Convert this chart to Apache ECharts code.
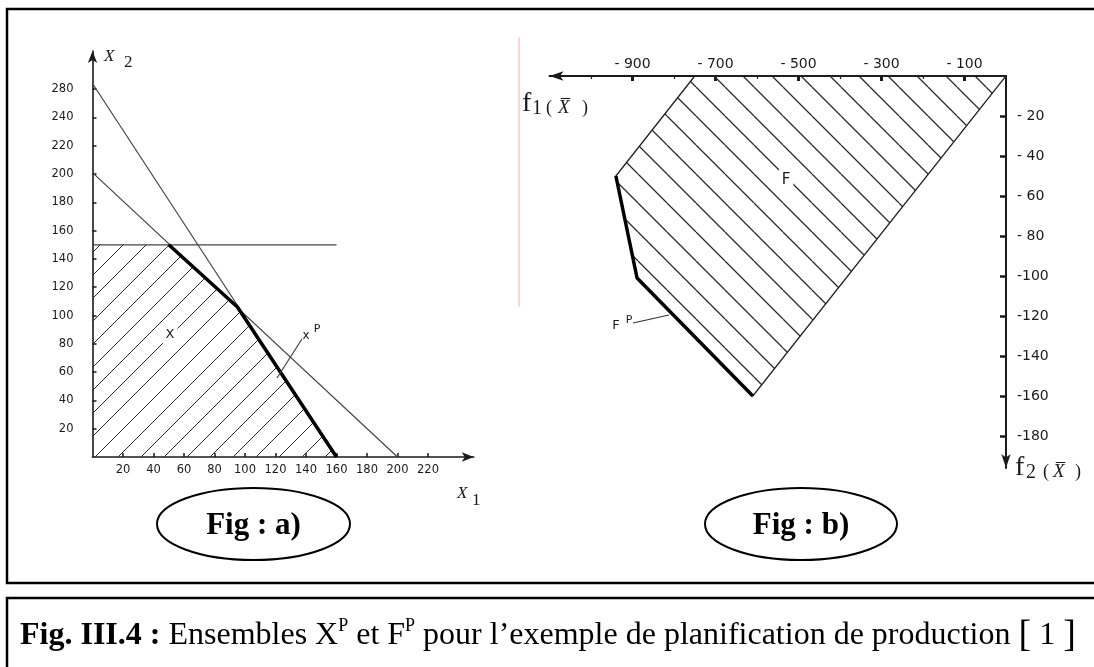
<!DOCTYPE html>
<html>
<head>
<meta charset="utf-8">
<script src="https://cdn.jsdelivr.net/npm/echarts@6/dist/echarts.min.js"></script>
<style>
  html, body { margin: 0; padding: 0; background: #fff; }
  #chart { width: 1094px; height: 667px; }
</style>
</head>
<body>
<div id="chart"></div>
<script>
// ---- Fig a) : decision space (x1, x2)
const x1TicksA = [20, 40, 60, 80, 100, 120, 140, 160, 180, 200, 220];
const x2TicksA = [20, 40, 60, 80, 100, 120, 140, 160, 180, 200, 220, 240, 260];
const x2LabelsA = ['20', '40', '60', '80', '100', '120', '140', '160', '180', '200', '220', '240', '280'];
const lineSteepA = [[0, 264], [160, 0]];
const line200A = [[0, 201], [200, 0]];
const line150A = [[0, 150], [160, 150]];
const paretoA = [[50, 150], [95, 106], [160, 0]];
const setA = [[0, 0], [0, 150], [50, 150], [95, 106], [160, 0]];

// ---- Fig b) : objective space (f1, f2)
const f1Ticks = [-900, -700, -500, -300, -100];
const f1Minor = [-1000, -800, -600, -400, -200];
const f2Ticks = [-20, -40, -60, -80, -100, -120, -140, -160, -180];
const setF = [[0, 0], [-750, 0], [-940, -50], [-889, -101], [-610, -160]];
const paretoF = [[-940, -50], [-889, -101], [-610, -160]];

const INK = '#1a1a1a';
const serif = 'Liberation Serif';
const sans = 'DejaVu Sans';

function hatch(w, dir, lw) {
  const c = document.createElement('canvas');
  c.width = w; c.height = w;
  const ctx = c.getContext('2d');
  ctx.strokeStyle = '#2a2a2a';
  ctx.lineWidth = lw;
  ctx.beginPath();
  [-w, 0, w].forEach(o => {
    if (dir === '/') { ctx.moveTo(o, w); ctx.lineTo(o + w, 0); }
    else { ctx.moveTo(o, 0); ctx.lineTo(o + w, w); }
  });
  ctx.stroke();
  return c;
}

function polySeries(xi, yi, pts, img, stroke) {
  return {
    type: 'custom', xAxisIndex: xi, yAxisIndex: yi, data: [pts[0]], silent: true, z: 1,
    renderItem: (params, api) => ({
      type: 'polygon',
      shape: { points: pts.map(p => api.coord(p)) },
      style: { fill: { image: img, repeat: 'repeat' }, stroke: stroke || null, lineWidth: 1.3 }
    })
  };
}

function lineSeries(data, xi, yi, width, color, z) {
  return {
    type: 'line', xAxisIndex: xi, yAxisIndex: yi, data: data, symbol: 'none', silent: true, z: z,
    lineStyle: { width: width, color: color }
  };
}

function txt(x, y, text, size, extra) {
  return {
    type: 'text', x: x, y: y, z: 10,
    style: Object.assign({ text: text, fontSize: size, fontFamily: sans, fill: INK, verticalAlign: 'middle' }, extra || {})
  };
}

const myChart = echarts.init(document.getElementById('chart'));

myChart.setOption({
  animation: false,
  grid: [
    { left: 92.5, top: 51, width: 381.25, height: 406, outerBoundsMode: 'none' },
    { left: 549.5, top: 76, width: 456.5, height: 392, outerBoundsMode: 'none' }
  ],
  xAxis: [
    {
      type: 'value', gridIndex: 0, min: 0, max: 250,
      axisLine: { onZero: false, symbol: ['none', 'arrow'], symbolSize: [7, 12], lineStyle: { color: INK, width: 1.6 } },
      axisTick: { inside: true, length: 4, customValues: x1TicksA, lineStyle: { color: INK, width: 1.5 } },
      axisLabel: { customValues: x1TicksA, color: INK, fontSize: 11.5, fontFamily: sans, margin: 7 },
      splitLine: { show: false }
    },
    {
      type: 'value', gridIndex: 1, position: 'top', min: -1100, max: 0,
      axisLine: { onZero: false, symbol: ['arrow', 'none'], symbolSize: [7, 14], lineStyle: { color: INK, width: 2 } },
      axisTick: { inside: true, length: 5, customValues: f1Ticks, lineStyle: { color: INK, width: 3 } },
      axisLabel: { customValues: f1Ticks, color: INK, fontSize: 14, fontFamily: sans, margin: 5,
        formatter: v => '- ' + (-v) },
      splitLine: { show: false }
    },
    {
      type: 'value', gridIndex: 1, position: 'top', min: -1100, max: 0,
      axisLine: { show: false },
      axisTick: { inside: true, length: 3, customValues: f1Minor, lineStyle: { color: INK, width: 1.2 } },
      axisLabel: { show: false },
      splitLine: { show: false }
    }
  ],
  yAxis: [
    {
      type: 'value', gridIndex: 0, min: 0, max: 287,
      axisLine: { show: true, onZero: false, symbol: ['none', 'arrow'], symbolSize: [7, 12], lineStyle: { color: INK, width: 1.6 } },
      axisTick: { show: true, inside: true, length: 4, customValues: x2TicksA, lineStyle: { color: INK, width: 1.5 } },
      axisLabel: { customValues: x2TicksA, color: INK, fontSize: 11.5, fontFamily: sans, margin: 19,
        formatter: v => x2LabelsA[x2TicksA.indexOf(v)] },
      splitLine: { show: false }
    },
    {
      type: 'value', gridIndex: 1, position: 'right', min: -196, max: 0,
      axisLine: { show: true, onZero: false, symbol: ['arrow', 'none'], symbolSize: [7, 14], lineStyle: { color: INK, width: 2 } },
      axisTick: { show: true, inside: true, length: 6, customValues: f2Ticks, lineStyle: { color: INK, width: 2.5 } },
      axisLabel: { customValues: f2Ticks, color: INK, fontSize: 14, fontFamily: sans, margin: 11,
        formatter: v => (-v < 100 ? '- ' : '-') + (-v) },
      splitLine: { show: false }
    }
  ],
  series: [
    polySeries(0, 0, setA, hatch(23, '/', 1)),
    lineSeries(lineSteepA, 0, 0, 1.2, '#444', 2),
    lineSeries(line200A, 0, 0, 1.2, '#444', 2),
    lineSeries(line150A, 0, 0, 1.2, '#444', 2),
    lineSeries(paretoA, 0, 0, 3.5, '#000', 3),
    polySeries(1, 1, setF, hatch(29, '\\', 1.3), '#222'),
    lineSeries(paretoF, 1, 1, 3.5, '#000', 3)
  ],
  graphic: [
    // frames
    { type: 'rect', shape: { x: 7, y: 9, width: 1100, height: 574 }, style: { fill: null, stroke: '#000', lineWidth: 2.5 } },
    { type: 'rect', shape: { x: 7, y: 598, width: 1100, height: 100 }, style: { fill: null, stroke: '#000', lineWidth: 2.5 } },
    // scan artefact
    { type: 'line', shape: { x1: 519, y1: 37, x2: 519, y2: 307 }, style: { stroke: '#f6caca', lineWidth: 1.5 } },
    // fig a) labels
    txt(104, 57, 'X', 17, { fontFamily: serif, fontStyle: 'italic' }),
    txt(124, 63, '2', 17, { fontFamily: serif }),
    txt(457, 494, 'X', 17, { fontFamily: serif, fontStyle: 'italic' }),
    txt(472, 501, '1', 17, { fontFamily: serif }),
    txt(170, 335, 'X', 13, { align: 'center', backgroundColor: '#fff', padding: [2, 3] }),
    txt(306, 336, 'x', 12, { align: 'center' }),
    txt(317, 329, 'P', 11, { align: 'center' }),
    { type: 'line', shape: { x1: 302, y1: 339, x2: 277, y2: 378 }, style: { stroke: '#444', lineWidth: 1.2 }, z: 10 },
    // fig b) labels
    txt(522, 104, 'f', 28, { fontFamily: serif }),
    txt(532, 109, '1', 20, { fontFamily: serif }),
    txt(546, 108, '(', 18, { fontFamily: serif }),
    txt(558, 108, 'X\u0305', 19, { fontFamily: serif, fontStyle: 'italic' }),
    txt(582, 108, ')', 18, { fontFamily: serif }),
    txt(1015, 468, 'f', 28, { fontFamily: serif }),
    txt(1026, 473, '2', 20, { fontFamily: serif }),
    txt(1043, 472, '(', 18, { fontFamily: serif }),
    txt(1053, 472, 'X\u0305', 19, { fontFamily: serif, fontStyle: 'italic' }),
    txt(1075, 472, ')', 18, { fontFamily: serif }),
    txt(786, 180, 'F', 15, { align: 'center', backgroundColor: '#fff', padding: [3, 3] }),
    txt(616, 326, 'F', 13, { align: 'center' }),
    txt(629, 320, 'P', 11, { align: 'center' }),
    { type: 'line', shape: { x1: 633, y1: 323, x2: 669, y2: 315 }, style: { stroke: '#333', lineWidth: 1.2 }, z: 10 },
    // sub-figure tags
    { type: 'ellipse', shape: { cx: 253.5, cy: 524, rx: 96.5, ry: 36 }, style: { fill: null, stroke: '#000', lineWidth: 2 } },
    txt(253.5, 526, 'Fig : a)', 31, { fontFamily: serif, fontWeight: 'bold', align: 'center', fill: '#000' }),
    { type: 'ellipse', shape: { cx: 801, cy: 524, rx: 96, ry: 36 }, style: { fill: null, stroke: '#000', lineWidth: 2 } },
    txt(801, 526, 'Fig : b)', 31, { fontFamily: serif, fontWeight: 'bold', align: 'center', fill: '#000' }),
    // caption
    {
      type: 'text', x: 20, y: 636, z: 10,
      style: {
        text: '{b|Fig. III.4 :} {r|Ensembles X}{s|P}{r| et F}{s|P}{r| pour l\u2019exemple de planification de production }{k|[}{r| 1 }{k|]}',
        fontFamily: serif, fontSize: 32, fill: '#000', verticalAlign: 'middle',
        rich: {
          b: { fontFamily: serif, fontSize: 32, fontWeight: 'bold', fill: '#000' },
          r: { fontFamily: serif, fontSize: 32, fill: '#000' },
          s: { fontFamily: serif, fontSize: 18, fill: '#000', verticalAlign: 'top' },
          k: { fontFamily: serif, fontSize: 38, fill: '#000' }
        }
      }
    }
  ]
});
</script>
</body>
</html>
